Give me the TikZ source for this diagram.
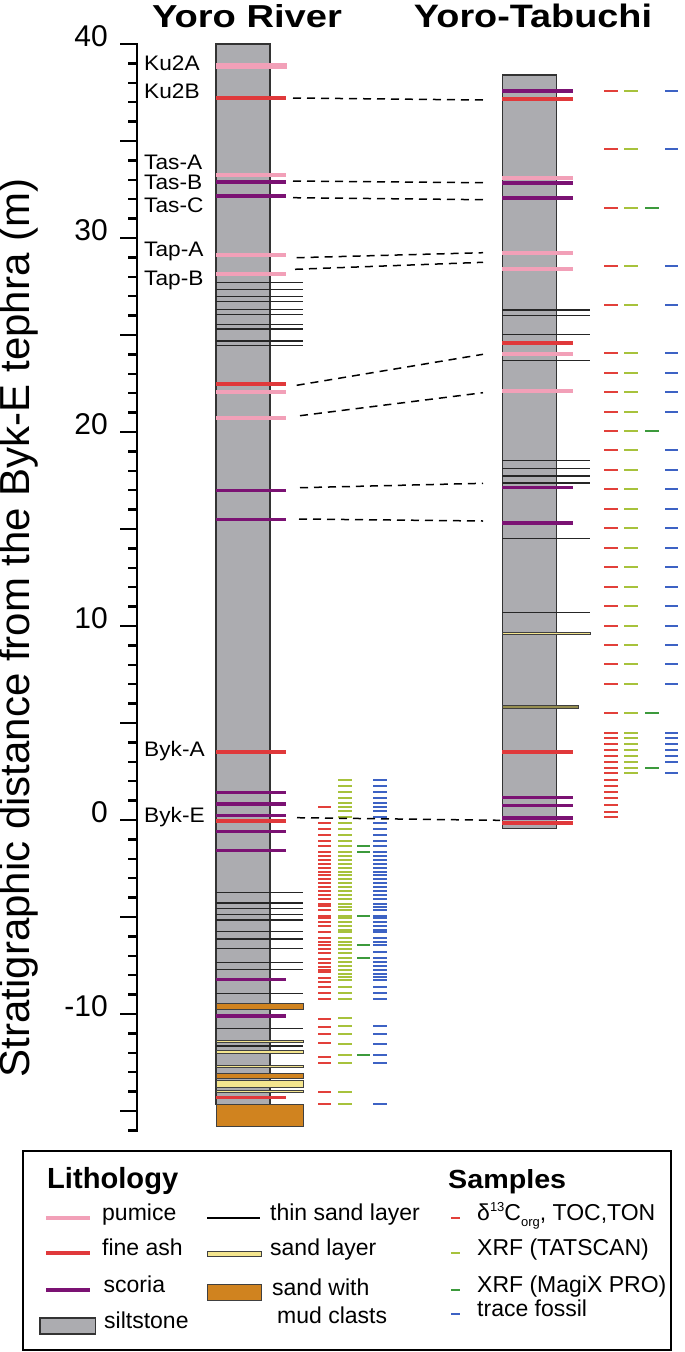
\documentclass[tikz,border=0pt]{standalone}
\usepackage{fontspec}
\setmainfont{Liberation Sans}
\definecolor{pinkT}{RGB}{242,160,184}
\definecolor{ashT}{RGB}{224,57,59}
\definecolor{scoT}{RGB}{123,18,115}
\definecolor{siltT}{RGB}{172,172,176}
\definecolor{sandT}{RGB}{244,229,142}
\definecolor{mudT}{RGB}{208,131,31}
\definecolor{oliveT}{RGB}{150,142,80}
\definecolor{sRed}{RGB}{226,64,58}
\definecolor{sYel}{RGB}{167,194,60}
\definecolor{sGrn}{RGB}{60,154,60}
\definecolor{sBlu}{RGB}{61,98,196}
\begin{document}
\begin{tikzpicture}[x=1pt,y=-1pt,
  axisline/.style={line width=2.4pt,black},
  colbox/.style={fill=siltT,draw=black!80,line width=1.3pt},
  thinsand/.style={line width=1.2pt,black!85},
  sandbox/.style={fill=sandT,draw=black!75,line width=1pt},
  mudbox/.style={fill=mudT,draw=black!75,line width=1pt},
  corr/.style={line width=1.5pt,black,dash pattern=on 8pt off 6pt},
  smp/.style={line width=2pt},
  ticklab/.style={font=\fontsize{30}{34}\selectfont,inner sep=0pt,anchor=mid east},
  teph/.style={font=\fontsize{21}{24}\selectfont,inner sep=0pt,anchor=mid west},
  legtxt/.style={font=\fontsize{23}{26}\selectfont,inner sep=0pt,anchor=mid west},
  legbold/.style={inner sep=0pt,anchor=base west}]
\useasboundingbox (0,0) rectangle (685,1352);

% titles
\node[inner sep=0pt,anchor=base] (t1) at (247,27) {\resizebox{190pt}{23pt}{\bfseries Yoro River}};
\node[inner sep=0pt,anchor=base] (t2) at (533,27) {\resizebox{238pt}{23.5pt}{\bfseries Yoro-Tabuchi}};

% axis title
\node[inner sep=0pt,rotate=90,anchor=mid] (ytitle) at (27,628) {\fontsize{42}{46}\selectfont Stratigraphic distance from the Byk-E tephra (m)};

% axis
\draw[axisline] (137,43) -- (137,1131.5);
\foreach \m in {-16,...,40}{
  \pgfmathsetmacro\yy{820-19.4*\m}
  \pgfmathtruncatemacro\r{mod(abs(\m),5)}
  \ifnum\r=0 \draw[axisline] (120,\yy) -- (137,\yy);
  \else \draw[axisline] (128,\yy) -- (137,\yy); \fi
}
\foreach \m/\n in {40/a,30/b,20/c,10/d,0/e,-10/f}
  \node[ticklab] (tl\n) at (108,{820-19.4*\m}) {\m};

% ---------- Yoro River column ----------
\draw[colbox] (216,44) rectangle (270,1104.3);
\foreach \y in {282.7,289.3,296.7,301.7,309.3,314.3,324.3,329,341,345.3,892.3,903,908.3,914.7,920,931.7,939,948.7,962.7,969.7,993.3,1028.3,1046}
  \draw[thinsand] (216,\y) -- (303,\y);
\draw[mudbox] (216,1003.7) rectangle (303,1009.3);
\draw[mudbox] (216,1073.7) rectangle (303,1078);
\draw[mudbox] (216,1104.3) rectangle (303,1126.7);
\foreach \a/\b in {1040/1042.5,1050/1053.3,1065.7/1067.9,1080.7/1087.3,1090/1092.7}
  \draw[sandbox] (216,\a) rectangle (303,\b);
\draw[line width=6pt,pinkT] (216,66) -- (287,66);
\foreach \y/\c/\w in {98/ashT/4,175/pinkT/4,182/scoT/3.5,196/scoT/3.5,255/pinkT/4,273.7/pinkT/4,383.7/ashT/4,391.7/pinkT/4,418/pinkT/4,490.7/scoT/3.5,519.3/scoT/3.5,751.7/ashT/4,792.7/scoT/3.5,804/scoT/3.5,815.3/scoT/3.5,821/ashT/4,831.3/scoT/3.5,850.7/scoT/3.5,979.3/scoT/3.5,1016/scoT/3.5,1097/ashT/3}
  \draw[line width=\w pt,draw=\c] (216,\y) -- (286,\y);

% tephra labels
\node[teph] (lku2a) at (144,68) {\scalebox{1.08}[1]{Ku2A}};
\node[teph] (lku2b) at (144,96) {\scalebox{1.08}[1]{Ku2B}};
\node[teph] (ltasa) at (144,167) {\scalebox{1.08}[1]{Tas-A}};
\node[teph] (ltasb) at (144,187) {\scalebox{1.08}[1]{Tas-B}};
\node[teph] (ltasc) at (144,210) {\scalebox{1.08}[1]{Tas-C}};
\node[teph] (ltapa) at (144,254) {\scalebox{1.08}[1]{Tap-A}};
\node[teph] (ltapb) at (144,283) {\scalebox{1.08}[1]{Tap-B}};
\node[teph] (lbyka) at (144,754) {\scalebox{1.08}[1]{Byk-A}};
\node[teph] (lbyke) at (144,820) {\scalebox{1.08}[1]{Byk-E}};

% Yoro River samples
\foreach \y in {807.3,822.7,828.7,834.7,840.7,846.3,851.7,856,860,863.7,867.7,871.7,875.3,879.3,883.3,887,891,894.7,898.7,904,906.3,910.3,916,918.3,921.7,925.7,932,938,941.7,945.3,949,952.7,959,962.7,966.7,969.5,971.8,977.7,981.7,986.7,993.3,998.7,1019,1026.7,1034.3,1042.7,1057,1063,1092.3,1103.7}
  \draw[smp,sRed] (318,\y) -- (331,\y);
\foreach \y in {780,785.7,791.7,797.7,803.3,807.3,811.3,816.7,822.7,828.7,834.7,840.7,846.3,851.7,856,860,863.7,867.7,871.7,875.3,879.3,883.3,887,891,894.7,898.7,904.3,906.7,910.3,916,918.3,921.7,925.7,930,932,938,941.7,945.3,949,952.7,957.7,961.7,965.7,970,973.7,976.7,980,986.7,993.3,998.7,1018.3,1026,1034,1043.7,1055,1063,1092.3,1103.7}
  \draw[smp,sYel] (338,\y) -- (352,\y);
\foreach \y in {846,851.7,916,945.3,958.3,1055.3}
  \draw[smp,sGrn] (357,\y) -- (370,\y);
\foreach \y in {780,785.7,791.7,797.7,803.3,807.3,811.3,816.7,822.7,828.7,834.7,840.7,846,851.7,856,860,863.7,867.7,871.7,875.3,879.3,883.3,887,891,894.7,898.7,904,906.7,910.3,916,918.3,921.7,925.7,930,932,938,941.7,945.3,952.3,958.3,961.7,965.7,970,973.7,976.7,980,986.7,993.3,998.7,1026,1034,1043.7,1055,1063,1103.7}
  \draw[smp,sBlu] (373,\y) -- (387,\y);

% ---------- Yoro-Tabuchi column ----------
\draw[colbox] (502.3,75) rectangle (556.7,828.3);
\foreach \y in {310,315.7,334.7,360.7,460.3,468.7,476,483,538.3,612.3}
  \draw[thinsand] (502.3,\y) -- (590,\y);
\draw[sandbox] (502.3,632) rectangle (590.7,634.7);
\draw[fill=oliveT,draw=black!75,line width=1pt] (502.3,705.7) rectangle (578,708.3);
\foreach \y/\c/\w in {91/scoT/3.5,99.3/ashT/4,178.3/pinkT/4,183/scoT/3.5,198/scoT/3.5,253/pinkT/4,268.7/pinkT/4,343.3/ashT/4,354/pinkT/4,391.3/pinkT/4,487.7/scoT/3.5,523/scoT/3.5,752.3/ashT/4,797.7/scoT/3.5,805.7/scoT/3.5,818/scoT/3.5,822.7/ashT/4}
  \draw[line width=\w pt,draw=\c] (502.3,\y) -- (573,\y);

% Yoro-Tabuchi samples
\foreach \y in {90.7,149.3,266,305,353.3,372.7,392.3,411.7,450.3,470,489.3,509,528.3,547.7,567.3,586.7,606,625.7,645,664.3,684,732.7,738.3,744,750,756,761.7,773.3}{
  \draw[smp,sRed] (604,\y) -- (618,\y);
  \draw[smp,sYel] (624,\y) -- (638,\y);
  \draw[smp,sBlu] (665,\y) -- (678,\y);
}
\foreach \y in {207.7,431,713,767.7}{
  \draw[smp,sRed] (604,\y) -- (618,\y);
  \draw[smp,sYel] (624,\y) -- (638,\y);
  \draw[smp,sGrn] (645,\y) -- (659,\y);
}
\foreach \y in {780.3,785.7,792,797.7,805.3,811.7,817}
  \draw[smp,sRed] (604,\y) -- (618,\y);

% ---------- correlation lines ----------
\foreach \n/\xa/\ya/\xb/\yb in {1/293/98/483/100,2/293/181/483/182.7,3/293/197.7/483/199.7,4/296.7/257.7/483/252.7,5/295/269.3/483/262.3,6/296.7/385.3/483/354.3,7/300/415.7/483/392.7,8/300/487.7/483/483.3,9/299/519/483/521,10/297/817.7/500/820.3}{
  \coordinate (cl\n) at (\xa,\ya);
  \coordinate (cr\n) at (\xb,\yb);
  \draw[corr] (cl\n) -- (cr\n);
}

% ---------- legend ----------
\draw[line width=1.8pt] (23,1151) rectangle (671,1350);
\node[legbold] (lgL) at (47,1188) {\resizebox{131pt}{!}{\fontsize{26}{30}\selectfont\bfseries Lithology}};
\node[legbold] (lgS) at (448,1188) {\resizebox{118pt}{19pt}{\bfseries Samples}};
\draw[line width=4pt,pinkT] (46,1218) -- (90,1218);
\node[legtxt] (lg1) at (102,1218) {pumice};
\draw[line width=4pt,ashT] (46,1253) -- (90,1253);
\node[legtxt] (lg2) at (102,1253) {fine ash};
\draw[line width=3.5pt,scoT] (46,1290) -- (90,1290);
\node[legtxt] (lg3) at (103.5,1290) {scoria};
\draw[colbox] (40,1318) rectangle (95.6,1334);
\node[legtxt] (lg4) at (104,1326) {siltstone};
\draw[line width=1.2pt,black] (207,1218) -- (260,1218);
\node[legtxt] (lg5) at (270,1218) {thin sand layer};
\draw[sandbox] (207,1251.5) rectangle (261,1256.5);
\node[legtxt] (lg6) at (270,1253) {sand layer};
\draw[mudbox] (207,1284.3) rectangle (261,1300);
\node[legtxt] (lg7) at (272,1293) {sand with};
\node[legtxt] (lg8) at (277,1321) {mud clasts};
\draw[smp,sRed] (451,1218) -- (460,1218);
\node[legtxt] (lg9) at (477,1218) {δ\raisebox{0.75ex}{\fontsize{13}{13}\selectfont 13}C\raisebox{-0.45ex}{\fontsize{13}{13}\selectfont org}, TOC,TON};
\draw[smp,sYel] (451,1253) -- (460,1253);
\node[legtxt] (lg10) at (477,1253) {XRF (TATSCAN)};
\draw[smp,sGrn] (451,1290) -- (460,1290);
\node[legtxt] (lg11) at (477,1290) {XRF (MagiX PRO)};
\draw[smp,sBlu] (451,1314) -- (460,1314);
\node[legtxt] (lg12) at (477,1314) {trace fossil};
\end{tikzpicture}
\end{document}
